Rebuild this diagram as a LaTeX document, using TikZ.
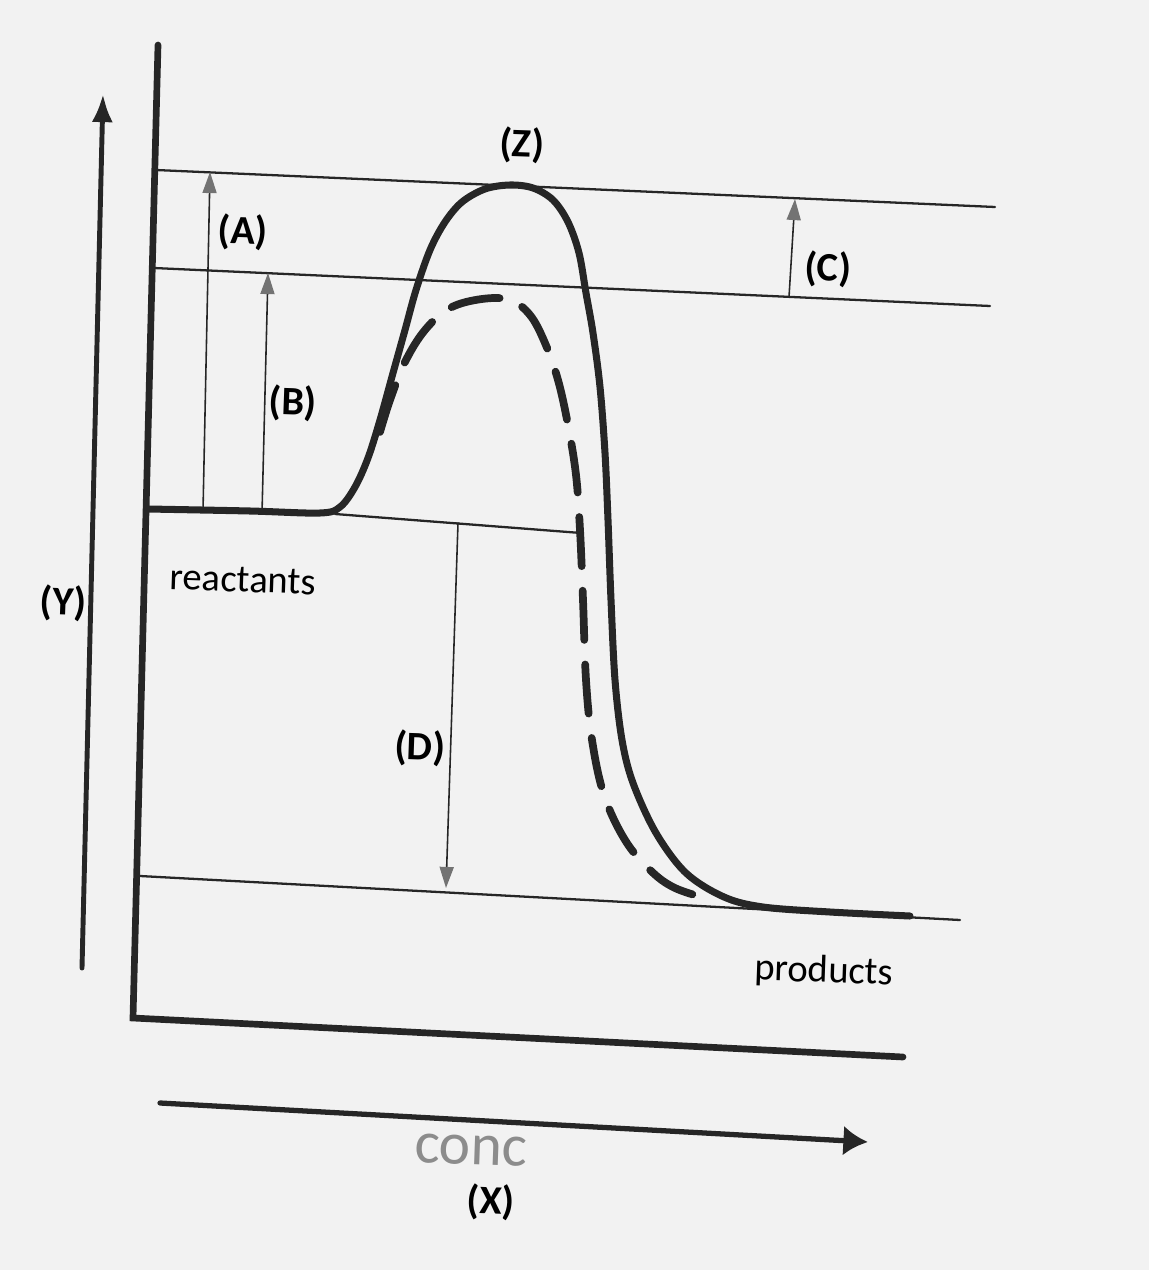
\documentclass[tikz,border=0pt]{standalone}
\usepackage{fontspec}
\setmainfont{Carlito}
\usetikzlibrary{arrows.meta}

\tikzset{
  axis/.style={line width=3.8pt, black!85},
  level/.style={line width=1.3pt, black!85},
  gap/.style={line width=0.9pt, black!85, -{Triangle[length=12pt,width=8pt,color=black!55]}},
  curve/.style={line width=4pt, black!85, line join=round},
  lbl/.style={font=\fontsize{23}{26}\selectfont\bfseries, inner sep=1pt, rotate=-2},
  word/.style={font=\fontsize{22}{25}\selectfont, inner sep=1pt, rotate=-2},
}

\begin{document}
\begin{tikzpicture}[x=0.02cm, y=-0.02cm, line cap=round]
    \useasboundingbox[fill=black!5] (0,0) rectangle (1149,1270);
    % axes
    \coordinate (top) at (158,45);
    \coordinate (orig) at (133,1018);
    \coordinate (xend) at (903,1057);
    \coordinate (y0) at (82,968);
    \coordinate (y1) at (103,94);
    \coordinate (x0) at (160,1103);
    \coordinate (x1) at (868,1142);
    % energy levels
    \coordinate (t1) at (156,170);  \coordinate (t2) at (995,207);
    \coordinate (m1) at (154,268);  \coordinate (m2) at (990,306);
    \coordinate (r1) at (148,509);  \coordinate (r2) at (335,514);
    \coordinate (r3) at (581,533);
    \coordinate (p1) at (140,876);  \coordinate (p2) at (960,920);
    % ends of the gaps
    \coordinate (a0) at (203,511);  \coordinate (a1) at (210,172);
    \coordinate (b0) at (262,513);  \coordinate (b1) at (268,273);
    \coordinate (c0) at (789,297);  \coordinate (c1) at (795,199);
    \coordinate (d0) at (458,523);  \coordinate (d1) at (446,888);

    \draw[axis] (top) -- (orig) -- (xend);
    \draw[line width=2.8pt, black!85, -{Latex[length=16pt,width=12pt]}] (y0) -- (y1);
    \draw[line width=3pt, black!85, -{Latex[length=14pt,width=17pt]}] (x0) -- (x1);

    \draw[level] (t1) -- (t2);
    \draw[level] (m1) -- (m2);
    \draw[level] (r2) -- (r3);
    \draw[level] (p1) -- (p2);

    \draw[gap] (a0) -- (a1);
    \draw[gap] (b0) -- (b1);
    \draw[gap] (c0) -- (c1);
    \draw[gap] (d0) -- (d1);

    % catalysed path
    \draw[curve, line width=4.4pt, dash pattern=on 28pt off 14pt]
      plot[smooth, tension=0.6] coordinates {(380,432) (390,400) (405,362)
      (425,330) (450,308) (482,299) (510,300) (530,315) (545,343) (558,380)
      (568,425) (576,475) (580,530) (583,600) (586,680) (592,740) (604,795)
      (625,840) (650,870) (675,888) (712,900)};
    % uncatalysed path
    \draw[curve] plot[smooth, tension=0.55] coordinates {(148,509) (250,511)
      (320,513) (340,507) (355,487) (368,458) (380,420) (393,373) (405,330)
      (416,290) (430,250) (445,222) (462,202) (485,189) (510,185) (533,188)
      (553,200) (568,222) (579,253) (586,293) (593,333) (600,387) (605,453)
      (608,520) (611,600) (615,680) (622,740) (633,783) (656,833) (686,873)
      (724,897) (763,907) (830,912) (910,916)};

    \node[lbl] (zlab) at (522,145) {(Z)};
    \node[lbl] (alab) at (243,232) {(A)};
    \node[lbl] (blab) at (293,403) {(B)};
    \node[lbl] (clab) at (828,269) {(C)};
    \node[lbl] (dlab) at (420,748) {(D)};
    \node[lbl] (ylab) at (63,603) {(Y)};
    \node[lbl, inner sep=0pt] (xlab) at (491,1202) {(X)};
    \node[word] (react) at (243,580) {reactants};
    \node[word] (prod) at (824,972) {products};
    \node[font=\fontsize{34}{38}\selectfont, text=black!45, inner sep=0pt, rotate=-2] (conc) at (471,1150) {conc};
\end{tikzpicture}
\end{document}
